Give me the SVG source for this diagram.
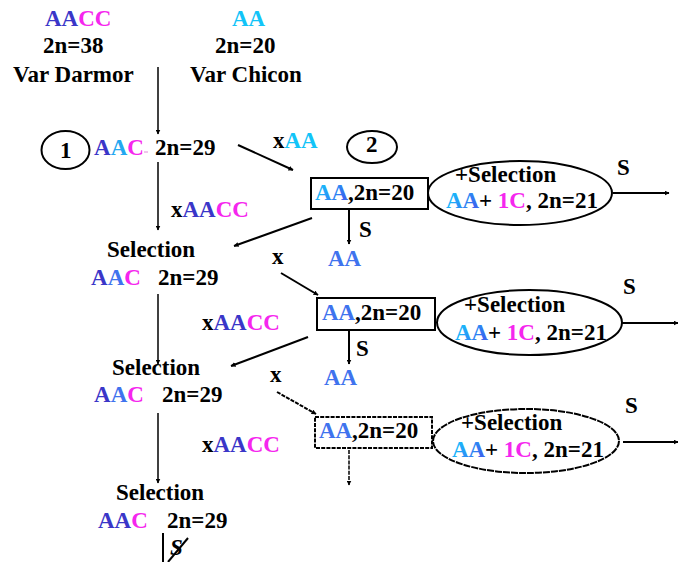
<svg xmlns="http://www.w3.org/2000/svg" width="678" height="562" viewBox="0 0 678 562">
<style>
text{font-family:'Liberation Serif','Times New Roman',serif;font-weight:700;font-size:23px;fill:#000}
.db{fill:#3A36C8}.cy{fill:#12C4F8}.bl{fill:#3F73EE}.mg{fill:#F526EE}
.gr{fill:url(#gAA)}
.ln{stroke:#000;stroke-width:1.5;fill:none}
.ln2{stroke:#000;stroke-width:2;fill:none}
.dash{stroke-dasharray:4 1.2}
.fdash{stroke-dasharray:7 1}
</style>
<defs>
<linearGradient id="gAA" x1="0" y1="0" x2="1" y2="0.4">
<stop offset="0" stop-color="#10D4FF"/><stop offset="1" stop-color="#3A66EE"/>
</linearGradient>
<marker id="ar" viewBox="0 0 10 10" refX="9" refY="5" markerWidth="5" markerHeight="5" markerUnits="userSpaceOnUse" orient="auto">
<path d="M0,0 L10,5 L0,10 z" fill="#000"/>
</marker>
</defs>

<g id="darmor">
<text x="45" y="26"><tspan class="db">AA</tspan><tspan class="mg">CC</tspan></text>
<text x="43" y="53">2n=38</text>
<text x="13" y="82">Var Darmor</text>
</g>
<g id="chicon">
<text x="232" y="26" class="cy">AA</text>
<text x="215" y="53">2n=20</text>
<text x="190" y="82">Var Chicon</text>
</g>

<g id="label1">
<ellipse cx="65.5" cy="150" rx="24" ry="19" class="ln2"/>
<text x="60" y="158">1</text>
</g>
<g id="label2">
<ellipse cx="372" cy="147" rx="25" ry="16" class="ln2"/>
<text x="366" y="152">2</text>
</g>

<g id="f1">
<text x="94" y="155"><tspan class="db">A</tspan><tspan fill="#22A8F0">A</tspan><tspan class="mg">C</tspan></text>
<line x1="144" y1="152" x2="148" y2="152" stroke="#E08AD8" stroke-width="1"/>
<text x="155" y="155">2n=29</text>
</g>

<g id="box1">
<rect x="311" y="178" width="117" height="31" class="ln2"/>
<text x="315" y="200" class="gr">AA</text>
<text x="348" y="200">,2n=20</text>
</g>
<g id="sel1">
<ellipse cx="520" cy="193" rx="92" ry="32" class="ln2"/>
<text x="455" y="182">+Selection</text>
<text x="446" y="208" class="gr">AA</text>
<text x="479" y="208">+<tspan class="mg"> 1C</tspan>, 2n=21</text>
</g>
<g id="aa1"><text x="328" y="266" class="bl">AA</text></g>

<g id="s1">
<text x="107" y="257">Selection</text>
<text x="91" y="285"><tspan class="db">A</tspan><tspan class="bl">A</tspan><tspan class="mg">C</tspan></text>
<text x="158" y="285">2n=29</text>
</g>

<g id="box2">
<rect x="317" y="298" width="118" height="32" class="ln2"/>
<text x="322" y="320" class="bl">AA</text>
<text x="355" y="320">,2n=20</text>
</g>
<g id="sel2">
<ellipse cx="529.5" cy="322.5" rx="92.5" ry="32.5" class="ln2"/>
<text x="464" y="312">+Selection</text>
<text x="455" y="340" class="gr">AA</text>
<text x="488" y="340">+<tspan class="mg"> 1C</tspan>, 2n=21</text>
</g>
<g id="aa2"><text x="324" y="385" class="bl">AA</text></g>

<g id="s2">
<text x="112" y="375">Selection</text>
<text x="94" y="402"><tspan class="db">A</tspan><tspan class="bl">A</tspan><tspan class="mg">C</tspan></text>
<text x="162" y="402">2n=29</text>
</g>

<g id="box3">
<rect x="315" y="417" width="117" height="31" class="ln2 dash"/>
<text x="319" y="438" class="bl">AA</text>
<text x="352" y="438">,2n=20</text>
</g>
<g id="sel3">
<ellipse cx="526" cy="441" rx="93" ry="32" class="ln2 fdash"/>
<text x="461" y="430">+Selection</text>
<text x="452" y="457" class="gr">AA</text>
<text x="485" y="457">+<tspan class="mg"> 1C</tspan>, 2n=21</text>
</g>

<g id="s3">
<text x="116" y="500">Selection</text>
<text x="98" y="528"><tspan class="db">AA</tspan><tspan class="mg">C</tspan></text>
<text x="167" y="528">2n=29</text>
</g>

<g id="connectors">
<line x1="158" y1="67" x2="158" y2="134" class="ln" marker-end="url(#ar)"/>
<line x1="238" y1="145" x2="293" y2="170" class="ln2" marker-end="url(#ar)"/>
<text x="273" y="148">x<tspan class="cy">AA</tspan></text>

<line x1="158" y1="162" x2="158" y2="230" class="ln" marker-end="url(#ar)"/>
<text x="171" y="217">x<tspan class="db">AA</tspan><tspan class="mg">CC</tspan></text>

<line x1="349" y1="209" x2="349" y2="244" class="ln2" marker-end="url(#ar)"/>
<text x="359" y="237">S</text>
<line x1="613" y1="193" x2="669" y2="193" class="ln2" marker-end="url(#ar)"/>
<text x="617" y="175">S</text>

<line x1="312" y1="218" x2="234" y2="246" class="ln2" marker-end="url(#ar)"/>
<text x="272" y="264">x</text>
<line x1="281" y1="273" x2="318" y2="295" class="ln2" marker-end="url(#ar)"/>

<line x1="158" y1="294" x2="158" y2="364" class="ln" marker-end="url(#ar)"/>
<text x="202" y="330">x<tspan class="db">AA</tspan><tspan class="mg">CC</tspan></text>

<line x1="349" y1="330" x2="349" y2="364" class="ln2" marker-end="url(#ar)"/>
<text x="356" y="356">S</text>
<line x1="622" y1="323" x2="678" y2="323" class="ln2" marker-end="url(#ar)"/>
<text x="623" y="294">S</text>

<line x1="308" y1="337" x2="231" y2="366" class="ln2" marker-end="url(#ar)"/>
<text x="270" y="382">x</text>
<line x1="277" y1="392" x2="316" y2="414" class="ln2 dash" marker-end="url(#ar)"/>

<line x1="158" y1="413" x2="158" y2="483" class="ln" marker-end="url(#ar)"/>
<text x="202" y="452">x<tspan class="db">AA</tspan><tspan class="mg">CC</tspan></text>

<line x1="349" y1="450" x2="349" y2="485" class="ln dash" marker-end="url(#ar)"/>
<line x1="623" y1="442" x2="678" y2="442" class="ln2" marker-end="url(#ar)"/>
<text x="625" y="413">S</text>

<line x1="163" y1="533" x2="163" y2="562" class="ln2"/>
<text x="170" y="555" font-style="italic">S</text>
<line x1="168" y1="562" x2="188" y2="538" class="ln2"/>
</g>
</svg>
